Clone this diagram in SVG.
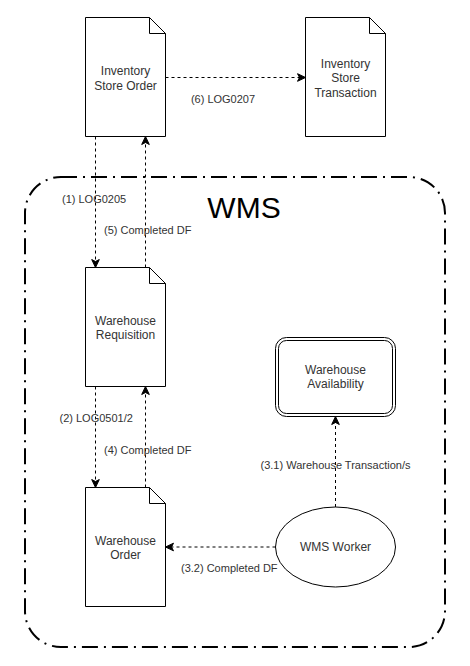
<svg xmlns="http://www.w3.org/2000/svg" width="470" height="666" viewBox="0 0 470 666">
<style>
.shape{fill:#fff;stroke:#000;stroke-width:1}
.fold{fill:none;stroke:#000;stroke-width:1}
.node-text{font-family:"Liberation Sans",Arial,sans-serif;font-size:12px;fill:#333;text-anchor:middle}
.lbl{font-family:"Liberation Sans",Arial,sans-serif;font-size:11px;fill:#333}
.conn{fill:none;stroke:#000;stroke-width:1;stroke-dasharray:3 3;marker-end:url(#arr)}
.container{fill:none;stroke:#000;stroke-width:2;stroke-dasharray:16 6 2 6}
.title{font-family:"Liberation Sans",Arial,sans-serif;font-size:30px;fill:#000;text-anchor:middle}
</style>
<defs>
<marker id="arr" markerUnits="userSpaceOnUse" markerWidth="10" markerHeight="10" viewBox="0 0 10 10" refX="9" refY="5" orient="auto">
<path d="M1,1.2 L9,5 L1,8.8 L3,5 Z" fill="#000" stroke="#000" stroke-width="1"/>
</marker>
</defs>
<rect width="470" height="666" fill="#fff"/>
<g id="wms">
<rect class="container" x="25" y="177" width="420" height="470" rx="36" ry="36"/>
<text class="title" x="244" y="218">WMS</text>
</g>
<g id="inventory-store-order">
<path class="shape" d="M85.5,17.5 H149.5 L165.5,33.5 V136.5 H85.5 Z"/>
<path class="fold" d="M149.5,17.5 V33.5 H165.5"/>
<text class="node-text" x="125.5" y="75">Inventory</text>
<text class="node-text" x="125.5" y="89.5">Store Order</text>
</g>
<g id="inventory-store-transaction">
<path class="shape" d="M305.5,17.5 H369.5 L385.5,33.5 V136.5 H305.5 Z"/>
<path class="fold" d="M369.5,17.5 V33.5 H385.5"/>
<text class="node-text" x="345.5" y="67.5">Inventory</text>
<text class="node-text" x="345.5" y="82">Store</text>
<text class="node-text" x="345.5" y="96.5">Transaction</text>
</g>
<g id="warehouse-requisition">
<path class="shape" d="M85.5,267.5 H149.5 L165.5,283.5 V386.5 H85.5 Z"/>
<path class="fold" d="M149.5,267.5 V283.5 H165.5"/>
<text class="node-text" x="125.5" y="324.5">Warehouse</text>
<text class="node-text" x="125.5" y="339">Requisition</text>
</g>
<g id="warehouse-order">
<path class="shape" d="M85.5,487.5 H149.5 L165.5,503.5 V606.5 H85.5 Z"/>
<path class="fold" d="M149.5,487.5 V503.5 H165.5"/>
<text class="node-text" x="125.5" y="544.5">Warehouse</text>
<text class="node-text" x="125.5" y="559">Order</text>
</g>
<g id="warehouse-availability">
<rect class="shape" x="275.5" y="337.5" width="120" height="79" rx="11" ry="11"/>
<rect class="fold" x="278.5" y="340.5" width="114" height="73" rx="8" ry="8"/>
<text class="node-text" x="335.5" y="373.5">Warehouse</text>
<text class="node-text" x="335.5" y="388">Availability</text>
</g>
<g id="wms-worker">
<ellipse class="shape" cx="335.5" cy="547" rx="60" ry="40"/>
<text class="node-text" x="335.5" y="551">WMS Worker</text>
</g>
<g id="connectors">
<path class="conn" d="M95.5,136.5 V267.5"/>
<path class="conn" d="M145.5,267.5 V136.5"/>
<path class="conn" d="M95.5,386.5 V487.5"/>
<path class="conn" d="M145.5,487.5 V386.5"/>
<path class="conn" d="M165.5,77.5 H305.5"/>
<path class="conn" d="M335.5,507 V416.5"/>
<path class="conn" d="M275.5,547 H165.5"/>
<text class="lbl" x="62" y="203">(1) LOG0205</text>
<text class="lbl" x="104" y="234">(5) Completed DF</text>
<text class="lbl" x="59.5" y="422">(2) LOG0501/2</text>
<text class="lbl" x="104" y="454">(4) Completed DF</text>
<text class="lbl" x="223" y="103" text-anchor="middle">(6) LOG0207</text>
<text class="lbl" x="260.5" y="469">(3.1) Warehouse Transaction/s</text>
<text class="lbl" x="181" y="572">(3.2) Completed DF</text>
</g>
</svg>
